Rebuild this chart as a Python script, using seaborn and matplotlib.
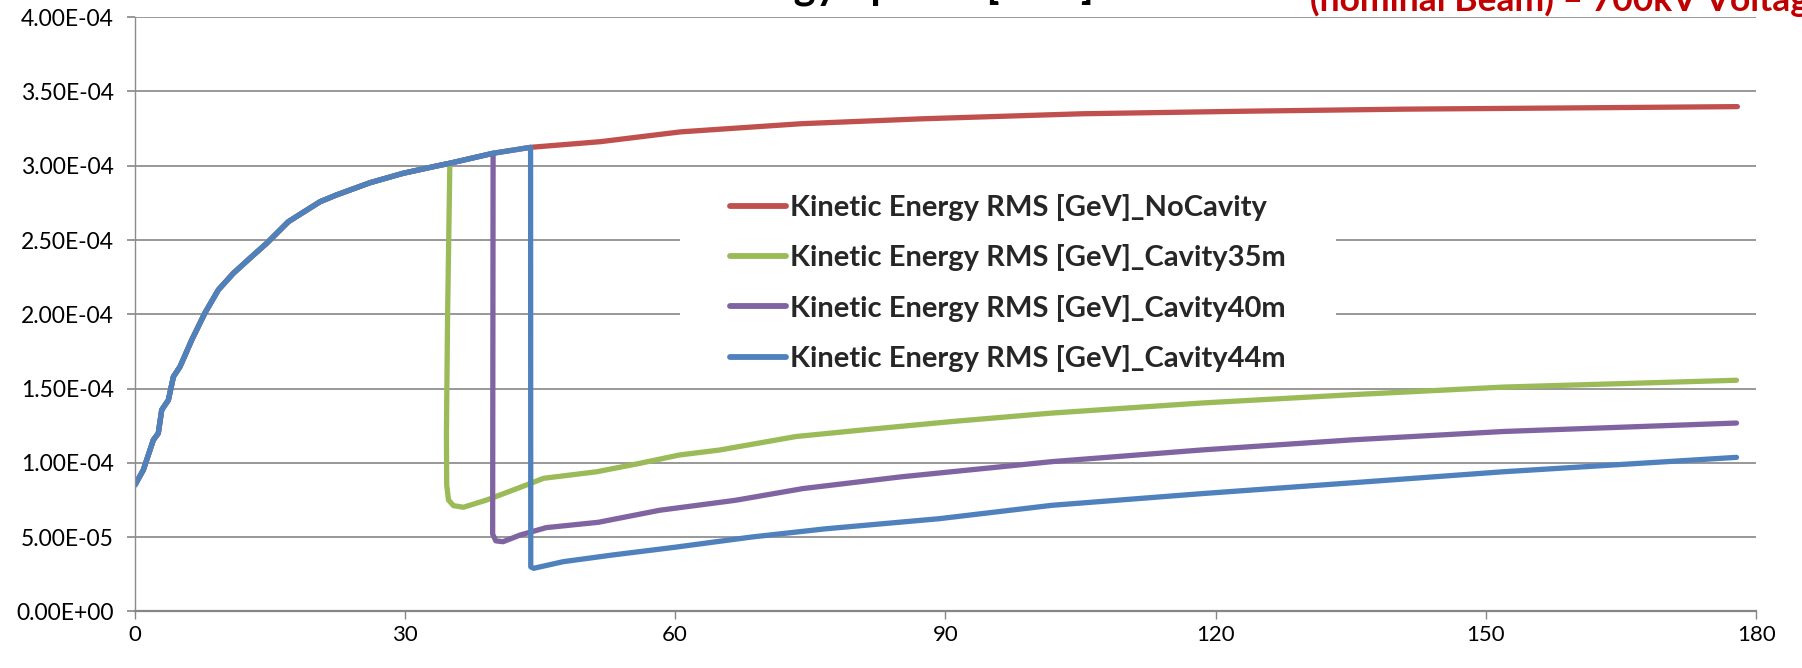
import numpy as np
import pandas as pd
import matplotlib
matplotlib.use("Agg")
import matplotlib.pyplot as plt
from matplotlib.patches import Rectangle
import seaborn as sns

# ---------------- data (energy spread in units of 1E-04 GeV) ----------------
UNIT = 1e-4

# common rise (all series identical before the cavity)
rise_s = [0.05, 0.98, 2.09, 2.64, 3.02, 3.76, 4.32, 5.05, 6.35, 7.8, 9.3, 10.97,
          13.0, 14.67, 17.07, 18.55, 20.6, 22.4, 26.15, 29.8, 33.5, 35.0, 39.8, 43.96]
rise_e = [0.851, 0.952, 1.154, 1.199, 1.356, 1.423, 1.580, 1.647, 1.827, 2.007, 2.164, 2.276,
          2.388, 2.478, 2.623, 2.680, 2.758, 2.803, 2.886, 2.949, 2.998, 3.017, 3.084, 3.124]

nocav_s = [51.7, 60.6, 74.0, 87.4, 105.2, 123.1, 140.9, 158.8, 177.9]
nocav_e = [3.162, 3.228, 3.283, 3.316, 3.350, 3.367, 3.381, 3.389, 3.398]

cav35_start = 35.0
cav35_s = [34.75, 34.62, 34.65, 34.85, 35.4, 36.5, 39.1, 43.5, 45.4, 51.3, 56.1, 60.5,
           65.0, 73.4, 80.9, 90.9, 101.8, 118.5, 135.2, 151.9, 177.8]
cav35_e = [2.0, 1.2, 0.85, 0.75, 0.712, 0.701, 0.750, 0.851, 0.896, 0.940, 0.997, 1.053,
           1.087, 1.177, 1.222, 1.279, 1.335, 1.403, 1.459, 1.510, 1.556]

cav40_start = 39.8
cav40_s = [39.75, 40.1, 40.9, 42.8, 45.7, 51.5, 58.3, 66.7, 74.2, 85.1, 101.8, 118.5,
           135.2, 151.9, 177.8]
cav40_e = [0.52, 0.475, 0.469, 0.514, 0.564, 0.600, 0.681, 0.748, 0.827, 0.906, 1.008, 1.087,
           1.155, 1.211, 1.268]

cav44_start = 43.96
cav44_s = [43.98, 44.3, 47.6, 53.1, 60.0, 68.4, 76.7, 89.3, 101.8, 118.5, 135.2, 151.9, 177.8]
cav44_e = [0.30, 0.29, 0.335, 0.380, 0.432, 0.500, 0.556, 0.624, 0.714, 0.793, 0.866, 0.940, 1.037]

series_names = ["Kinetic Energy RMS [GeV]_NoCavity",
                "Kinetic Energy RMS [GeV]_Cavity35m",
                "Kinetic Energy RMS [GeV]_Cavity40m",
                "Kinetic Energy RMS [GeV]_Cavity44m"]
series_colors = ["#C0504D", "#9BBB59", "#8064A2", "#4F81BD"]

x_ticks = [0, 30, 60, 90, 120, 150, 180]
y_ticks = [0.0, 0.5e-4, 1.0e-4, 1.5e-4, 2.0e-4, 2.5e-4, 3.0e-4, 3.5e-4, 4.0e-4]
y_tick_labels = ["0.00E+00", "5.00E-05", "1.00E-04", "1.50E-04", "2.00E-04",
                 "2.50E-04", "3.00E-04", "3.50E-04", "4.00E-04"]

title_black = "Kinetic Energy Spread [GeV]"
title_red = "(nominal Beam) \u2013 700kV Voltage"

# ---------------- build long table ----------------
def build(name, start, tail_s, tail_e):
    s = [v for v in rise_s if v <= start] + list(tail_s)
    e = [v for v, sv in zip(rise_e, rise_s) if sv <= start] + list(tail_e)
    return pd.DataFrame({"s": s, "E": np.array(e) * UNIT, "series": name})

df = pd.concat([
    build(series_names[0], 99.0, nocav_s, nocav_e),
    build(series_names[1], cav35_start, cav35_s, cav35_e),
    build(series_names[2], cav40_start, cav40_s, cav40_e),
    build(series_names[3], cav44_start, cav44_s, cav44_e),
], ignore_index=True)

# ---------------- style ----------------
sns.set_theme(style="white")
plt.rcParams['font.family'] = ['Lato', 'DejaVu Sans']

W, H = 1802, 668
fig = plt.figure(figsize=(W / 100, H / 100), dpi=100)
ax_l, ax_r, ax_t, ax_b = 134.5, 1756.3, 17.2, 611.4
ax = fig.add_axes([ax_l / W, 1 - ax_b / H, (ax_r - ax_l) / W, (ax_b - ax_t) / H])

sns.lineplot(data=df, x="s", y="E", hue="series", hue_order=series_names,
             palette=dict(zip(series_names, series_colors)), sort=False,
             estimator=None, units="series", linewidth=3.8, ax=ax, legend=True,
             solid_capstyle="round", solid_joinstyle="round")

handles, labels = ax.get_legend_handles_labels()
ax.get_legend().remove()

ax.set_xlim(0, 180)
ax.set_ylim(0, 4e-4)
ax.set_xticks(x_ticks)
ax.set_xticklabels([str(v) for v in x_ticks])
ax.set_yticks(y_ticks)
ax.set_yticklabels(y_tick_labels)
ax.set_xlabel("")
ax.set_ylabel("")

ax.set_axisbelow(True)
ax.yaxis.grid(True, color="#868686", linewidth=1.2)
ax.xaxis.grid(False)
for sp in ["top", "right"]:
    ax.spines[sp].set_visible(False)
ax.spines["left"].set_color("#8C8C8C")
ax.spines["left"].set_linewidth(1.0)
ax.spines["bottom"].set_color("#868686")
ax.spines["bottom"].set_linewidth(1.6)

ax.tick_params(axis="y", direction="out", length=6, width=1.2, color="#868686",
               pad=9, labelsize=16.5, labelcolor="black", left=True)
ax.tick_params(axis="x", direction="out", length=6, width=1.0, color="#868686",
               pad=4, labelsize=16, labelcolor="black", bottom=True)

# white legend background covering gridlines
ax.add_patch(Rectangle(((680 - ax_l) / (ax_r - ax_l), (ax_b - 382) / (ax_b - ax_t)),
                       (1336 - 680) / (ax_r - ax_l), (382 - 178) / (ax_b - ax_t),
                       transform=ax.transAxes, facecolor="white", edgecolor="none",
                       zorder=1))

fs = 21
leg = fig.legend(handles, labels, loc="upper left",
                 bbox_to_anchor=(730 / W, 1 - 194 / H), frameon=False,
                 borderpad=0, borderaxespad=0, handlelength=56 / (fs * 100 / 72),
                 handletextpad=0.12, labelspacing=0.8,
                 prop={"size": fs, "weight": "bold"})
for h in leg.get_lines():
    h.set_linewidth(4.2)
    h.set_solid_capstyle("round")

# clipped title
fig.text(1094 / W, 1 + 2 / H, title_black, ha="right", va="baseline",
         fontsize=30, fontweight="bold", color="black")
fig.text(1310 / W, 1 - 11 / H, title_red, ha="left", va="baseline",
         fontsize=25.5, fontweight="bold", color="#C00000")

fig.savefig("out.png", dpi=100)
